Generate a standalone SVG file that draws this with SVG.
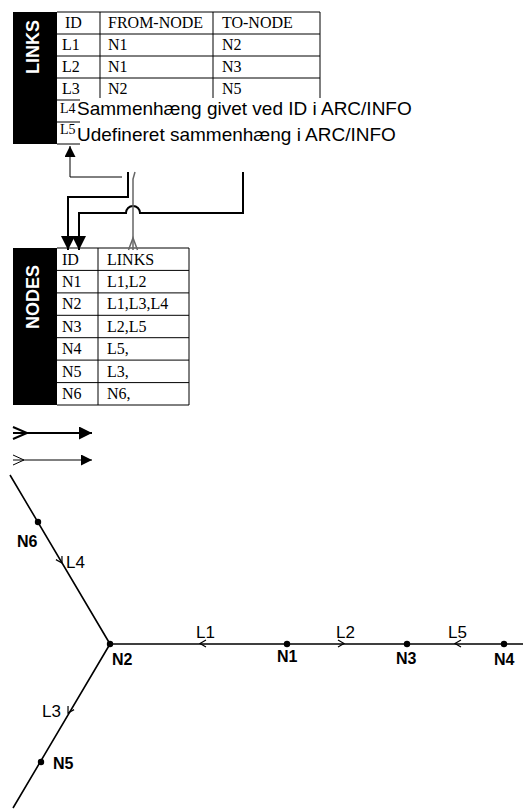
<svg xmlns="http://www.w3.org/2000/svg" width="532" height="809" viewBox="0 0 532 809">
<style>
.bar{fill:#000}
.title{font-family:"Liberation Sans",Arial,sans-serif;font-weight:bold;font-size:18px;fill:#fff}
.cell{font-family:"Liberation Serif","Times New Roman",serif;font-size:16px;fill:#000}
.sup{font-family:"Liberation Serif","Times New Roman",serif;font-size:14px;fill:#000}
.note{font-family:"Liberation Sans",Arial,sans-serif;font-size:19px;fill:#000}
.grid{stroke:#000;stroke-width:1;fill:none}
.thick{stroke:#000;stroke-width:2;fill:none}
.thin{stroke:#000;stroke-width:1;fill:none}
.gray{stroke:#666;stroke-width:1.5;fill:none}
.net{stroke:#000;stroke-width:1.6;fill:none}
.chev{stroke:#000;stroke-width:1.2;fill:none}
.dot{fill:#000}
.lbl{font-family:"Liberation Sans",Arial,sans-serif;font-size:17px;fill:#000}
.nlbl{font-family:"Liberation Sans",Arial,sans-serif;font-size:16px;font-weight:bold;fill:#000}
</style>
<defs>
<marker id="triL" viewBox="0 0 10 10" refX="10" refY="5" markerWidth="15" markerHeight="14" markerUnits="userSpaceOnUse" orient="auto"><path d="M0,0 L10,5 L0,10 z" fill="#000"/></marker>
<marker id="triS" viewBox="0 0 10 10" refX="10" refY="5" markerWidth="11" markerHeight="11" markerUnits="userSpaceOnUse" orient="auto"><path d="M0,0 L10,5 L0,10 z" fill="#000"/></marker>
<marker id="triM" viewBox="0 0 10 10" refX="10" refY="5" markerWidth="15" markerHeight="13" markerUnits="userSpaceOnUse" orient="auto"><path d="M0,0 L10,5 L0,10 z" fill="#000"/></marker>
<marker id="triT" viewBox="0 0 10 10" refX="10" refY="5" markerWidth="14" markerHeight="11" markerUnits="userSpaceOnUse" orient="auto"><path d="M0,0 L10,5 L0,10 z" fill="#000"/></marker>
</defs>

<g id="links-table">
<rect class="bar" x="13" y="12" width="44" height="132"/>
<text class="title" transform="translate(39,47) rotate(-90)" text-anchor="middle">LINKS</text>
<path class="grid" d="M57,12 H320 V98 M57,34 H320 M57,56 H320 M57,78 H320 M100,12 V98 M213,12 V98 M57,100 H80 M57,122 H80 M57,144 H80"/>
<text class="cell" x="65" y="28">ID</text>
<text class="cell" x="108" y="28">FROM-NODE</text>
<text class="cell" x="222" y="28">TO-NODE</text>
<text class="cell" x="62" y="50">L1</text>
<text class="cell" x="108" y="50">N1</text>
<text class="cell" x="222" y="50">N2</text>
<text class="cell" x="62" y="72">L2</text>
<text class="cell" x="108" y="72">N1</text>
<text class="cell" x="222" y="72">N3</text>
<text class="cell" x="62" y="94">L3</text>
<text class="cell" x="108" y="94">N2</text>
<text class="cell" x="222" y="94">N5</text>
<text class="sup" x="60" y="113">L4</text>
<text class="sup" x="60" y="134">L5</text>
</g>

<g id="notes">
<text class="note" x="77" y="115">Sammenhæng givet ved ID i ARC/INFO</text>
<text class="note" x="77" y="141">Udefineret sammenhæng i ARC/INFO</text>
</g>

<g id="nodes-table">
<rect class="bar" x="13" y="248" width="44" height="157"/>
<text class="title" transform="translate(39,297) rotate(-90)" text-anchor="middle">NODES</text>
<path class="grid" d="M57,248 H189 V405 H57 M57,270.4 H189 M57,292.9 H189 M57,315.3 H189 M57,337.7 H189 M57,360.1 H189 M57,382.6 H189 M98,248 V405"/>
<text class="cell" x="62" y="265">ID</text>
<text class="cell" x="107" y="265">LINKS</text>
<text class="cell" x="62" y="287">N1</text>
<text class="cell" x="107" y="287">L1,L2</text>
<text class="cell" x="62" y="309">N2</text>
<text class="cell" x="107" y="309">L1,L3,L4</text>
<text class="cell" x="62" y="332">N3</text>
<text class="cell" x="107" y="332">L2,L5</text>
<text class="cell" x="62" y="354">N4</text>
<text class="cell" x="107" y="354">L5,</text>
<text class="cell" x="62" y="377">N5</text>
<text class="cell" x="107" y="377">L3,</text>
<text class="cell" x="62" y="399">N6</text>
<text class="cell" x="107" y="399">N6,</text>
</g>

<g id="connectors">
<path class="thin" d="M122,177 H70 V146" marker-end="url(#triS)"/>
<path class="thick" d="M128,172 V197 H68 V250" marker-end="url(#triL)"/>
<path class="thick" d="M243,172 V213 H140 A7,7 0 0 0 126,213 H79 V250" marker-end="url(#triL)"/>
<path class="gray" d="M135,172 L133,179 V250"/>
<path class="gray" d="M128.5,250 L133,238 L137.5,250"/>
</g>

<g id="legend">
<path class="thick" d="M13,433 H92" marker-end="url(#triM)"/>
<path class="thick" d="M13,427 L27,433 L13,439"/>
<path class="thin" d="M13,460 H92" marker-end="url(#triT)"/>
<path class="thin" d="M13,455 L24,460 L13,465"/>
</g>

<g id="network">
<path class="net" d="M10,475 L110,644 M110,644 H523 M110,644 L13,808"/>
<g class="chev">
<polyline points="-6,-3.5 0,0 -6,3.5" transform="translate(62,563) rotate(59.4)"/>
<polyline points="-6,-3.5 0,0 -6,3.5" transform="translate(200,643.5) rotate(180)"/>
<polyline points="-6,-3.5 0,0 -6,3.5" transform="translate(344,643.5)"/>
<polyline points="-6,-3.5 0,0 -6,3.5" transform="translate(455,643.5) rotate(180)"/>
<polyline points="-6,-3.5 0,0 -6,3.5" transform="translate(68,713) rotate(120.6)"/>
</g>
<g id="N6"><circle class="dot" cx="38" cy="522" r="3.2"/><text class="nlbl" x="17" y="547">N6</text></g>
<g id="N2"><circle class="dot" cx="110" cy="644" r="3.2"/><text class="nlbl" x="112" y="665">N2</text></g>
<g id="N1"><circle class="dot" cx="287" cy="644" r="3.2"/><text class="nlbl" x="277" y="662">N1</text></g>
<g id="N3"><circle class="dot" cx="407" cy="644" r="3.2"/><text class="nlbl" x="396" y="664">N3</text></g>
<g id="N4"><circle class="dot" cx="504" cy="644" r="3.2"/><text class="nlbl" x="494" y="665">N4</text></g>
<g id="N5"><circle class="dot" cx="41" cy="762" r="3.2"/><text class="nlbl" x="53" y="769">N5</text></g>
<text class="lbl" x="66" y="568">L4</text>
<text class="lbl" x="196" y="638">L1</text>
<text class="lbl" x="336" y="638">L2</text>
<text class="lbl" x="448" y="638">L5</text>
<text class="lbl" x="42" y="717">L3</text>
</g>
</svg>
